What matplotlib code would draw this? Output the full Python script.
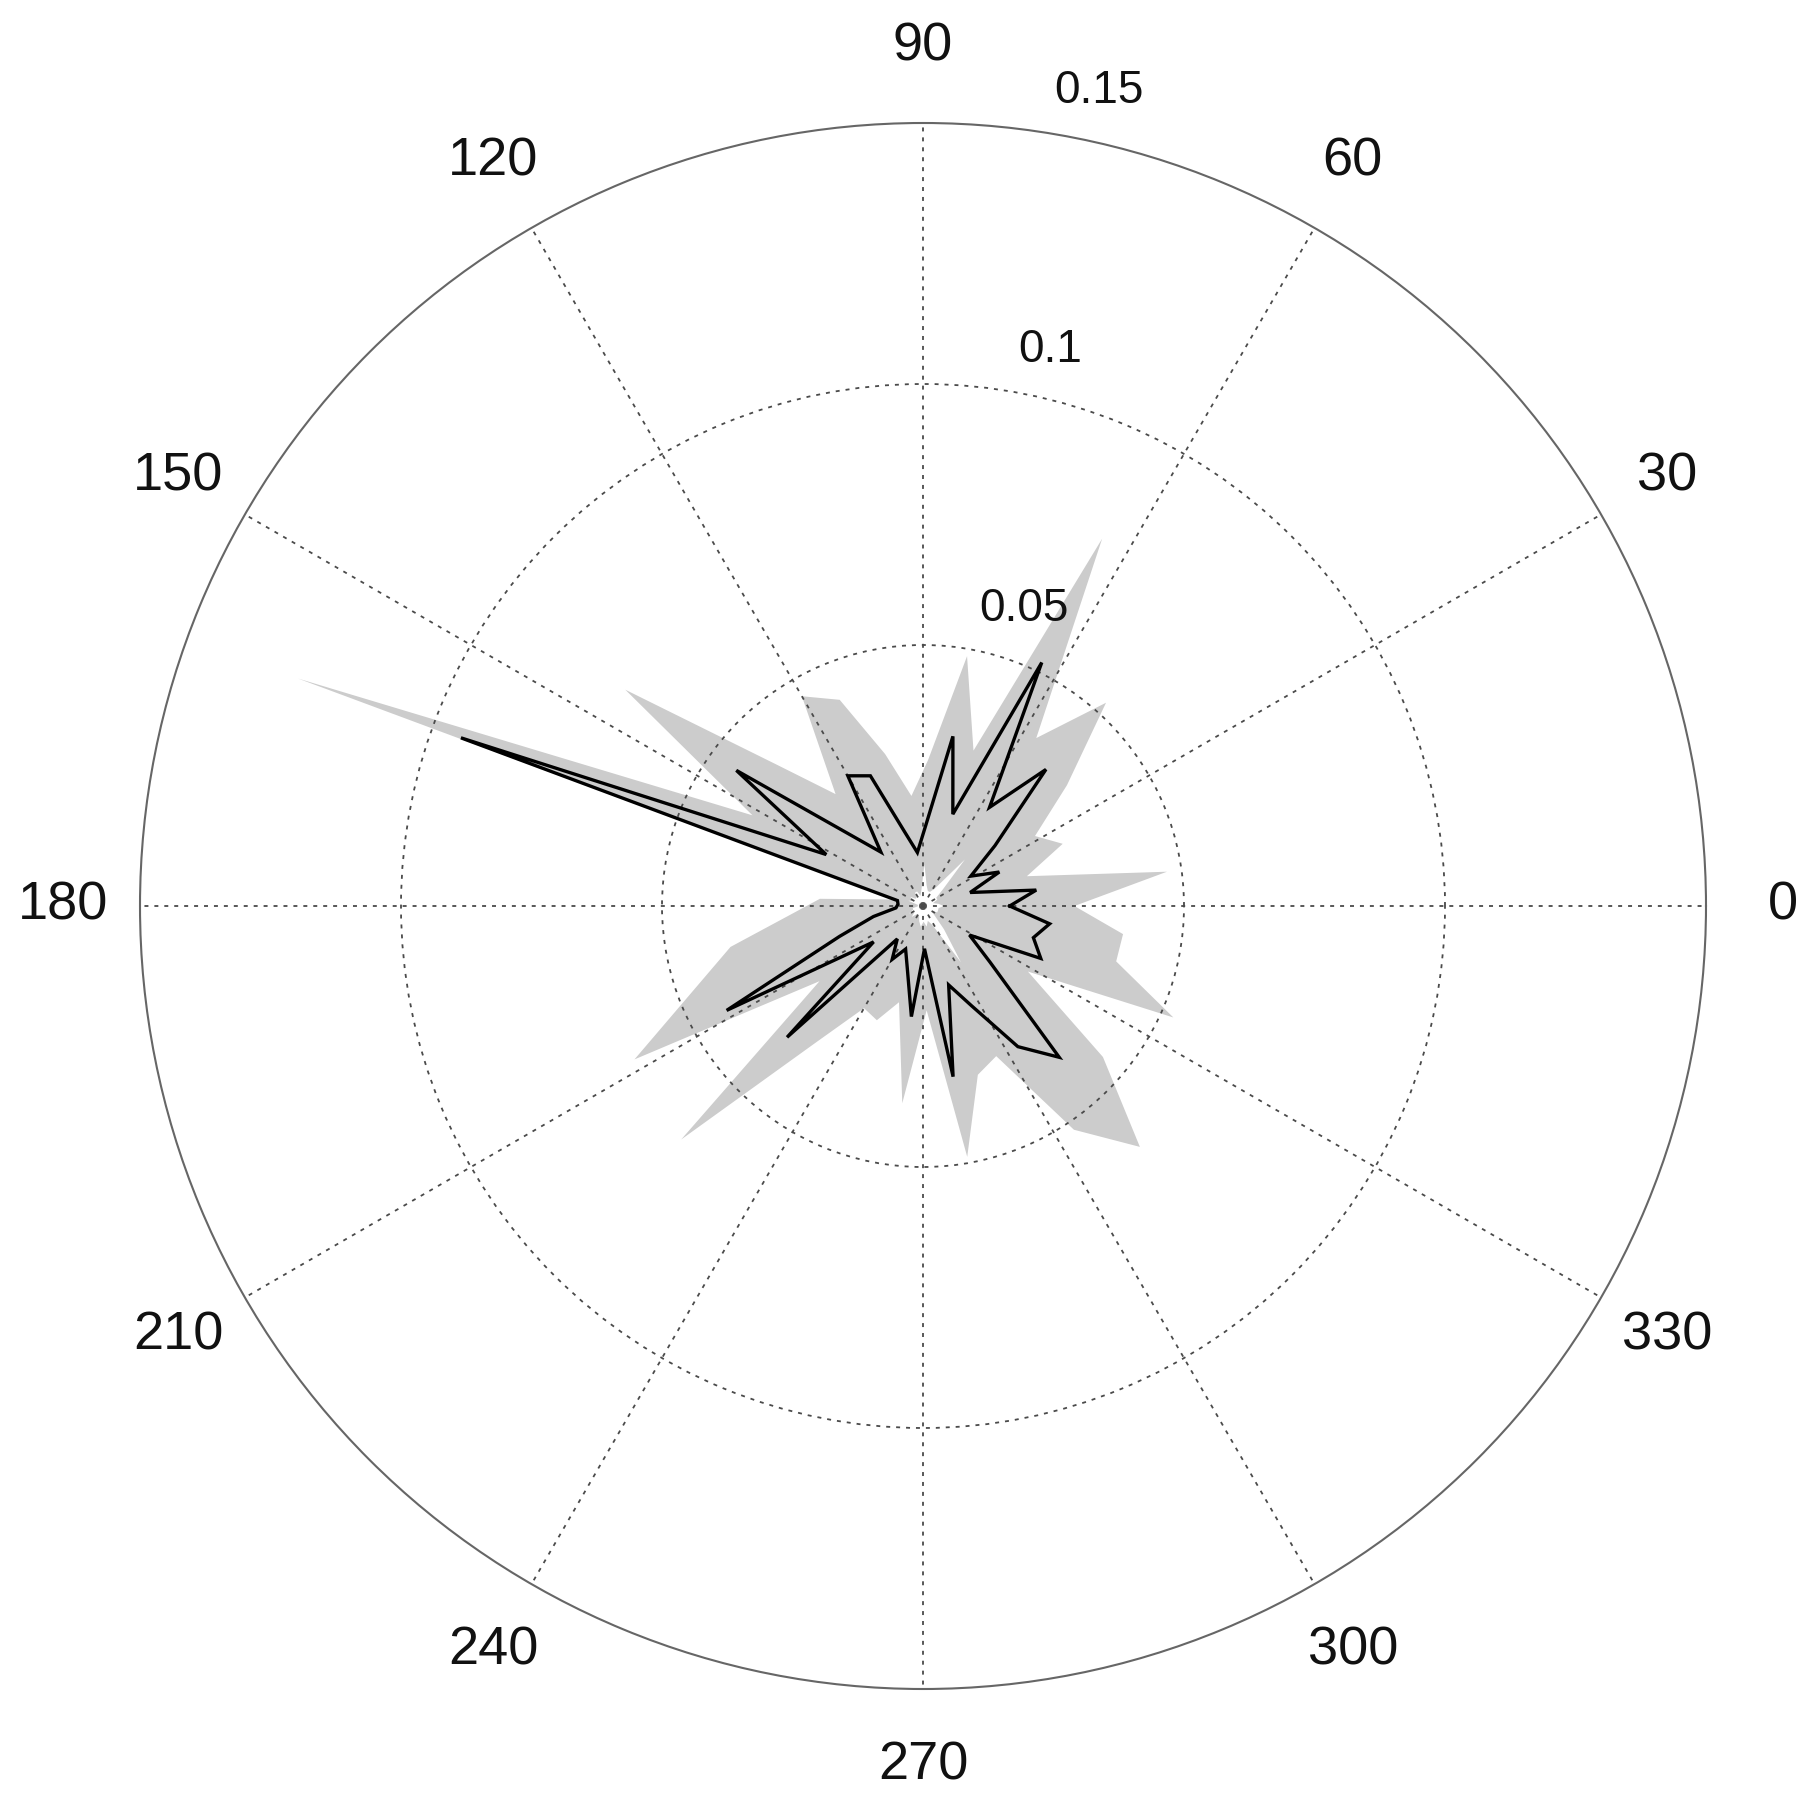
import numpy as np
import matplotlib
matplotlib.use('Agg')
import matplotlib.pyplot as plt

# bin angles (degrees), 8-degree bins
angles_deg = list(range(0, 360, 8))

# mean (black line)
mean_vals = [0.0166, 0.0219, 0.0094, 0.0160, 0.0108, 0.0180, 0.0352, 0.0228,
             0.0519, 0.0185, 0.0330, 0.0155, 0.0103, 0.0147, 0.0269, 0.0288,
             0.0131, 0.0200, 0.0442, 0.0210, 0.0942, 0.0050, 0.0048, 0.0052,
             0.0097, 0.0170, 0.0426, 0.0117, 0.0362, 0.0080, 0.0118, 0.0089,
             0.0124, 0.0213, 0.0082, 0.0332, 0.0159, 0.0213, 0.0325, 0.0390,
             0.0168, 0.0105, 0.0247, 0.0220, 0.0245]

# upper bound (grey area)
upper_vals = [0.0290, 0.0472, 0.0207, 0.0293, 0.0253, 0.0360, 0.0524, 0.0388,
              0.0783, 0.0313, 0.0486, 0.0280, 0.0212, 0.0300, 0.0426, 0.0464,
              0.0272, 0.0390, 0.0705, 0.0370, 0.1274, 0.0060, 0.0198, 0.0257,
              0.0377, 0.0466, 0.0626, 0.0245, 0.0644, 0.0330, 0.0226, 0.0236,
              0.0190, 0.0380, 0.0200, 0.0488, 0.0340, 0.0320, 0.0517, 0.0621,
              0.0450, 0.0237, 0.0525, 0.0385, 0.0387]

# lower bound (white area)
lower_vals = [0.0040, 0.0030, 0.0020, 0.0030, 0.0030, 0.0050, 0.0120, 0.0040,
              0.0030, 0.0030, 0.0040, 0.0080, 0.0030, 0.0020, 0.0030, 0.0030,
              0.0020, 0.0020, 0.0030, 0.0020, 0.0030, 0.0010, 0.0010, 0.0010,
              0.0020, 0.0020, 0.0030, 0.0020, 0.0030, 0.0020, 0.0020, 0.0020,
              0.0030, 0.0040, 0.0030, 0.0040, 0.0030, 0.0040, 0.0130, 0.0060,
              0.0030, 0.0020, 0.0030, 0.0030, 0.0030]

angle_ticks = list(range(0, 360, 30))
angle_labels = [str(a) for a in angle_ticks]
ring_ticks = [0.05, 0.1]
r_max = 0.15
radial_labels = ['0.05', '0.1', '0.15']
radial_label_pos = [(71.2, 0.0601), (77.1, 0.1092), (77.8, 0.1597)]

FONT = 'Liberation Sans'

fig = plt.figure(figsize=(18.16, 18.05), dpi=100)
ax = fig.add_axes([140 / 1816, 116 / 1805, 1566 / 1816, 1566 / 1805],
                  projection='polar')

th = np.deg2rad(angles_deg)
ax.fill(th, upper_vals, color='#cccccc', lw=0, zorder=1)
ax.fill(th, lower_vals, color='white', lw=0, zorder=1.1)
thc = np.append(th, th[0])
mc = np.append(mean_vals, mean_vals[0])
ax.plot(thc, mc, color='black', lw=2.4, zorder=3, solid_joinstyle='miter')

ax.set_ylim(0, r_max)
ax.set_xticks(np.deg2rad(angle_ticks))
ax.set_xticklabels([])
ax.set_yticks(ring_ticks)
ax.set_yticklabels([])
ax.tick_params(length=0)
ax.set_axisbelow(False)
ax.grid(True, color='#4a4a4a', linestyle=(0, (2.2, 3.3)), linewidth=1.3)
ax.spines['polar'].set_color('#666666')
ax.spines['polar'].set_linewidth(1.5)

for a, lab in zip(angle_ticks, angle_labels):
    ax.text(np.deg2rad(a), 0.1647, lab, ha='center', va='center',
            fontsize=39, family=FONT, color='#111111')

for (a, r), lab in zip(radial_label_pos, radial_labels):
    ax.text(np.deg2rad(a), r, lab, ha='center', va='center',
            fontsize=33, family=FONT, color='#111111', zorder=4)

fig.savefig('out.png', dpi=100, facecolor='white')
